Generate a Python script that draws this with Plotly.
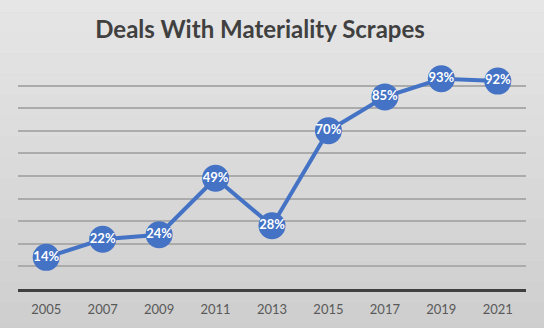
import plotly.graph_objects as go

years = ["2005", "2007", "2009", "2011", "2013", "2015", "2017", "2019", "2021"]
values = [14, 22, 24, 49, 28, 70, 85, 93, 92]
labels = [f"{v}%" for v in values]
title_text = "Deals With Materiality Scrapes"

fig = go.Figure()
fig.add_trace(go.Scatter(
    x=years, y=values, mode="lines+markers+text",
    line=dict(color="#4472C4", width=4),
    marker=dict(size=27, color="#4472C4"),
    text=labels, textposition="middle center",
    textfont=dict(family="Lato", size=13, color="white", weight="bold"),
    cliponaxis=False, hoverinfo="skip",
))

# vertical gradient background approximated with bands
shapes = []
n = 24
top = (233, 233, 233)
bot = (198, 198, 198)
for i in range(n):
    f = i / (n - 1)
    c = tuple(int(round(top[k] + (bot[k] - top[k]) * f)) for k in range(3))
    shapes.append(dict(type="rect", xref="paper", yref="paper",
                       x0=-0.1, x1=1.1,
                       y0=1.5 - (i + 1) * (2.2 / n), y1=1.5 - i * (2.2 / n),
                       fillcolor=f"rgb{c}", line=dict(width=0), layer="below"))

fig.update_layout(
    width=544, height=328,
    margin=dict(l=18, r=18, t=63, b=39),
    paper_bgcolor="#d9d9d9", plot_bgcolor="rgba(0,0,0,0)",
    shapes=shapes,
    showlegend=False,
    title=dict(text=title_text, x=0.478, xanchor="center", y=0.91, yanchor="middle",
               font=dict(family="Lato", size=24, color="#404040", weight="bold")),
    xaxis=dict(type="category", range=[-0.5, 8.5], showgrid=False,
               showline=True, linecolor="#404040", linewidth=3,
               ticks="", ticklabelstandoff=6,
               tickfont=dict(family="Lato", size=13, color="#595959"),
               fixedrange=True),
    yaxis=dict(range=[0, 100], dtick=10, showticklabels=False,
               showgrid=True, gridcolor="#ababab", gridwidth=1.5,
               zeroline=False, fixedrange=True),
)

fig.write_html("out.html")
